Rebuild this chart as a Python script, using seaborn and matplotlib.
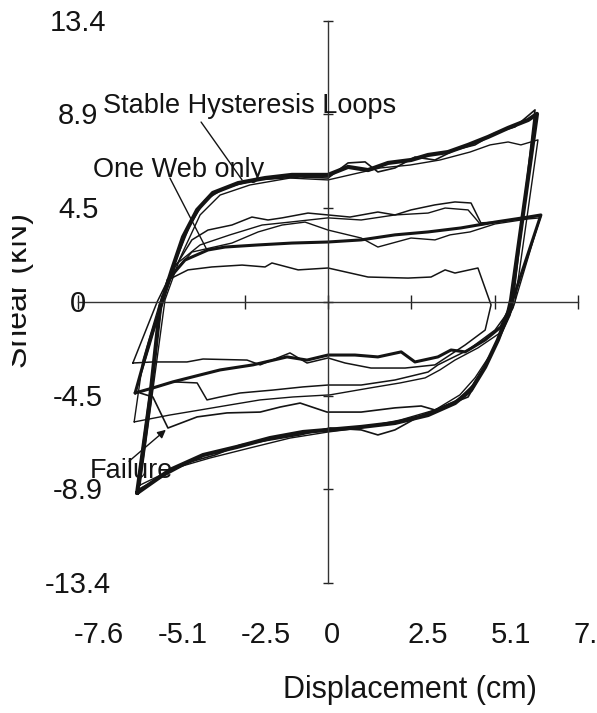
import matplotlib
matplotlib.use("Agg")
import matplotlib.pyplot as plt
from matplotlib.patches import Rectangle
from matplotlib.transforms import ScaledTranslation
import pandas as pd
import seaborn as sns

sns.set_theme(style="white")
plt.rcParams['font.family'] = ['Liberation Sans', 'DejaVu Sans']

# ---------------- data (displacement cm, shear kN) ----------------
# large stable hysteresis loops (bundle)
big_a_x = [-5.82, -5.43, -5.12, -4.76, -4.42, -3.99, -3.51, -2.74, -1.92, -1.10, 0.00, 0.61, 1.22, 1.83,
           2.53, 3.05, 3.66, 4.27, 4.88, 5.49, 6.10, 6.37, 5.58, 5.49, 5.18, 4.79, 4.36, 3.87, 3.05, 2.04,
           1.01, 0.00, -0.76, -1.77, -2.77, -3.81, -4.82, -5.82]
big_a_y = [-9.11, -4.67, -0.24, 1.53, 3.10, 4.39, 5.20, 5.67, 5.91, 6.06, 6.06, 6.44, 6.29, 6.63,
           6.77, 7.01, 7.15, 7.49, 7.87, 8.30, 8.68, 8.97, 0.10, -0.52, -1.81, -3.10, -4.20, -4.82, -5.39, -5.77,
           -5.96, -6.10, -6.20, -6.49, -6.91, -7.30, -8.01, -9.11]

big_b_x = [-5.82, -5.06, -4.66, -4.21, -3.75, -3.14, -2.23, -0.85, 0.00, 0.61, 1.13, 1.52, 2.04, 2.65,
           3.26, 3.87, 4.48, 5.09, 5.70, 6.31, 5.64, 5.55, 5.24, 4.85, 4.42, 3.96, 3.41, 2.80, 2.04, 1.52,
           1.01, 0.06, -0.85, -1.77, -2.68, -3.45, -4.21, -5.12, -5.82]
big_b_y = [-8.97, 0.10, 1.91, 3.67, 4.86, 5.44, 5.82, 5.96, 5.91, 6.63, 6.68, 6.20, 6.39, 6.91,
           6.77, 7.25, 7.49, 8.06, 8.35, 9.16, 0.00, -0.62, -1.67, -2.86, -3.96, -4.67, -5.05, -5.44, -6.10, -6.34,
           -6.10, -6.01, -6.34, -6.58, -6.82, -7.30, -7.63, -8.39, -8.97]

big_c_x = [-5.73, -4.97, -4.51, -3.90, -3.29, -2.38, -1.16, 0.00, 0.67, 1.59, 2.50, 3.41, 4.33, 4.94,
           5.49, 5.88, 6.40, 5.70, 5.40, 4.94, 4.48, 4.02, 3.26, 2.20, 0.98, 0.00, -1.16, -2.38, -3.60,
           -4.66, -5.73]
big_c_y = [-8.73, 0.10, 2.10, 4.15, 5.10, 5.58, 5.91, 5.82, 6.06, 6.39, 6.53, 6.77, 7.15, 7.49,
           7.63, 7.49, 7.73, 0.00, -1.10, -2.53, -3.62, -4.43, -5.15, -5.63, -6.01, -6.20, -6.49, -6.96, -7.44,
           -7.92, -8.73]

# "one web only" loop
web_x = [-5.88, -5.43, -5.03, -4.88, -4.36, -3.66, -3.14, -2.13, -1.10, 0.00, 1.01, 2.04, 3.05, 4.05,
         5.09, 6.10, 6.49, 5.58, 5.27, 4.79, 4.18, 3.75, 3.35, 2.65, 2.23, 1.52, 0.82, 0.00, -0.64, -1.25,
         -2.29, -3.29, -3.90, -4.73, -5.34, -5.88]
web_y = [-4.34, -1.81, 0.10, 1.05, 2.00, 2.48, 2.62, 2.72, 2.81, 2.86, 2.96, 3.20, 3.34, 3.53,
         3.81, 4.05, 4.15, -0.14, -1.19, -1.81, -2.38, -2.29, -2.62, -2.86, -2.38, -2.62, -2.53, -2.53, -2.77, -2.62,
         -3.00, -3.24, -3.48, -3.81, -4.10, -4.34]

# small early loop
small_x = [-5.95, -5.21, -4.88, -4.27, -3.54, -2.62, -1.92, -1.71, -0.91, 0.00, 1.22, 2.44, 3.14, 3.57,
           3.87, 4.57, 4.97, 4.79, 4.18, 3.26, 2.35, 1.31, 0.52, 0.00, -0.64, -1.16, -2.07, -2.47, -3.81,
           -4.30, -5.34, -5.95]
small_y = [-2.91, 0.00, 1.05, 1.53, 1.67, 1.76, 1.67, 1.86, 1.53, 1.62, 1.19, 1.14, 1.19, 1.53,
           1.38, 1.62, -0.14, -1.34, -2.05, -3.00, -3.15, -3.15, -2.91, -2.67, -2.91, -2.43, -3.00, -2.77, -2.72,
           -2.86, -2.86, -2.91]

# intermediate loops
mid1_x = [-5.88, -5.43, -5.03, -4.66, -4.15, -3.66, -2.93, -2.32, -1.83, -1.40, -0.61, 0.00, 0.67, 1.52,
          2.04, 2.53, 3.26, 3.87, 4.36, 4.66, 5.09, 6.10, 6.49, 5.58, 5.49, 5.09, 4.27, 3.35, 3.05, 2.04,
          1.01, 0.00, -0.76, -1.68, -2.68, -3.29, -3.69, -3.99, -4.73, -5.34, -5.88]
mid1_y = [-4.34, -2.05, 0.10, 1.67, 2.96, 3.43, 3.67, 4.05, 3.91, 4.01, 4.24, 4.15, 4.05, 4.29,
          4.15, 4.39, 4.63, 4.77, 4.72, 3.77, 3.81, 4.01, 4.10, -0.14, -0.48, -1.34, -2.29, -3.00, -3.34, -3.72,
          -3.96, -3.96, -4.05, -4.20, -4.34, -4.53, -4.67, -3.86, -3.81, -4.10, -4.34]

mid2_x = [-5.91, -5.64, -5.12, -4.76, -4.15, -2.93, -2.13, -1.40, -0.70, 0.00, 1.01, 1.52, 2.53, 3.26,
          3.72, 4.33, 5.09, 6.10, 6.46, 5.64, 5.24, 4.57, 3.87, 3.41, 2.96, 2.20, 1.28, 0.06, -1.07, -2.07,
          -2.99, -3.90, -4.82, -5.91]
mid2_y = [-5.72, -2.77, 0.00, 1.29, 2.38, 2.81, 3.34, 3.67, 3.81, 3.43, 3.05, 2.62, 3.05, 2.96,
          3.20, 3.34, 3.72, 3.96, 4.01, -0.29, -1.48, -2.19, -2.77, -3.24, -3.62, -3.86, -4.10, -4.43, -4.53, -4.67,
          -4.91, -5.15, -5.39, -5.72]

mid3_x = [-4.66, -3.90, -2.99, -2.01, -1.16, 0.00, 1.01, 2.04, 3.05, 3.57, 4.27, 4.48, 4.66, 5.09]
mid3_y = [1.76, 2.72, 3.20, 3.67, 3.81, 4.01, 3.91, 4.15, 4.24, 4.48, 4.39, 4.01, 3.67, 3.81]

# failure branch
fail_x = [-5.73, -5.34, -4.88, -3.99, -3.08, -2.07, -1.46, -0.85, -0.03, 1.01, 2.04, 2.84, 3.26, 4.27, 4.79]
fail_y = [-4.34, -4.53, -6.01, -5.48, -5.29, -5.25, -5.01, -4.82, -5.25, -5.25, -5.05, -4.96, -5.15, -4.53, -3.10]

x_tick_values = [-7.62, -5.08, -2.54, 0.0, 2.54, 5.08, 7.62]
x_tick_labels = ["-7.6", "-5.1", "-2.5", "0", "2.5", "5.1", "7.6"]
y_tick_values = [13.4, 8.94, 4.47, 0.0, -4.47, -8.94, -13.4]
y_tick_labels = ["13.4", "8.9", "4.5", "0", "-4.5", "-8.9", "-13.4"]

annotations = ["Stable Hysteresis Loops", "One Web only", "Failure"]

# ---------------- figure ----------------
INK = "#141414"
fig = plt.figure(figsize=(5.97, 7.13), dpi=100)
ax = fig.add_axes([0, 0, 1, 1])
ax.set_facecolor("white")

curves = [
    (big_a_x, big_a_y, 3.0),
    (big_b_x, big_b_y, 1.2),
    (big_c_x, big_c_y, 1.0),
    (web_x, web_y, 2.2),
    (small_x, small_y, 1.1),
    (mid1_x, mid1_y, 1.1),
    (mid2_x, mid2_y, 1.0),
    (mid3_x, mid3_y, 1.0),
    (fail_x, fail_y, 1.2),
]
for cx, cy, lw in curves:
    df = pd.DataFrame({"x": cx, "y": cy})
    sns.lineplot(data=df, x="x", y="y", sort=False, estimator=None, color=INK,
                 linewidth=lw, ax=ax, legend=False)

ax.set_xlim(-10.0, 8.2)
ax.set_ylim(-19.6, 14.4)
ax.set_xlabel("")
ax.set_ylabel("")
ax.grid(False)

for s in ["top", "right"]:
    ax.spines[s].set_visible(False)
ax.spines["left"].set_position(("data", 0))
ax.spines["bottom"].set_position(("data", 0))
ax.spines["left"].set_bounds(-13.4, 13.4)
ax.spines["bottom"].set_bounds(-7.62, 7.62)
for s in ["left", "bottom"]:
    ax.spines[s].set_color("#333333")
    ax.spines[s].set_linewidth(1.0)
ax.set_xticks(x_tick_values)
ax.set_yticks(y_tick_values)
ax.tick_params(axis="x", bottom=True, direction="inout", length=10, width=1, color="#222222",
               labelbottom=False)
ax.tick_params(axis="y", left=True, direction="inout", length=7, width=1, color="#222222",
               labelleft=False)

# tick labels
off = ScaledTranslation(-4 / 100, 0, fig.dpi_scale_trans)
for v, lab in zip(x_tick_values, x_tick_labels):
    ax.text(v, -15.88, lab, ha="left", va="center", fontsize=21, color=INK,
            transform=ax.transData + off)
off_y = ScaledTranslation(0, -2 / 100, fig.dpi_scale_trans)
for v, lab in zip(y_tick_values, y_tick_labels):
    ax.text(-7.62, v, lab, ha="center", va="center", fontsize=21, color=INK,
            transform=ax.transData + off_y)

# axis titles
ax.text(2.5, -18.5, "Displacement (cm)", ha="center", va="center", fontsize=22, color=INK)
ax.text(-8.96, 0.57, "Shear (kN)", rotation=90, ha="right", va="center", fontsize=23, color=INK)

# annotations
ax.text(-6.86, 9.01, annotations[0], ha="left", va="baseline", fontsize=19.5, color=INK)
ax.plot([-3.87, -2.62], [8.58, 5.82], color=INK, lw=1.0)
ax.text(-7.16, 5.96, annotations[1], ha="left", va="baseline", fontsize=19.5, color=INK)
ax.plot([-4.82, -3.69], [5.91, 2.48], color=INK, lw=1.0)
ax.text(-7.26, -8.39, annotations[2], ha="left", va="baseline", fontsize=19.5, color=INK)
ax.annotate("", xy=(-4.88, -6.01), xytext=(-6.13, -7.68),
            arrowprops=dict(arrowstyle="-|>", lw=1.0, color=INK, mutation_scale=12))

# scan crop at left edge
fig.add_artist(Rectangle((0, 0), 12 / 597, 1, transform=fig.transFigure,
                         facecolor="white", edgecolor="none", zorder=20))

fig.savefig("out.png", dpi=100, facecolor="white")
